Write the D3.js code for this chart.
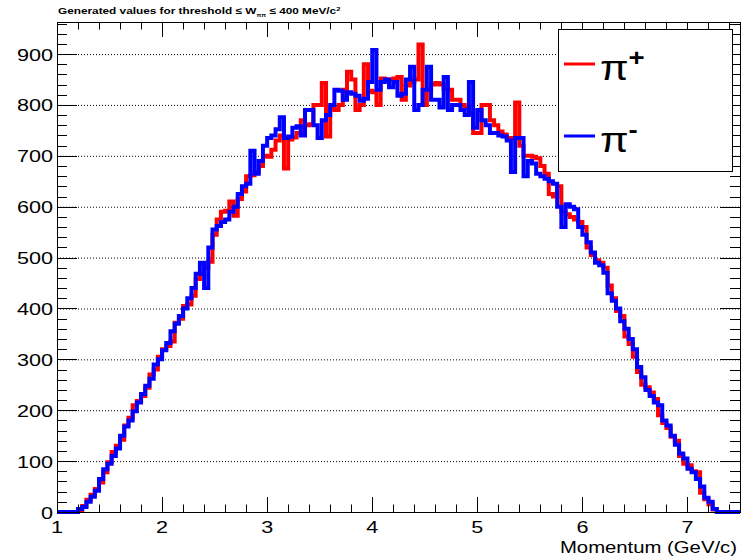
<!DOCTYPE html>
<html>
<head>
<meta charset="utf-8">
<script src="https://cdn.jsdelivr.net/npm/d3@7"></script>
<style>
  body { margin: 0; background: #fff; }
  svg { display: block; }
  text { font-family: "Liberation Sans", Arial, Helvetica, sans-serif; }
</style>
</head>
<body>
<svg width="748" height="558"></svg>
<script>
// histogram binning (momentum, GeV/c)
const binStart = 1.0;
const binWidth = 0.04;

// counts per bin, pi+
const piPlus = [
  0, 0, 0, 0, 0,   4, 12, 24, 34, 45,   58, 78, 98, 118, 130,   142, 170, 185, 210, 218,
  228, 244, 270, 280, 305,   320, 326, 335, 372, 380,   405, 408, 425, 458, 468,   480, 492, 545, 575, 590,
  592, 610, 582, 615, 630,   660, 662, 668, 680, 700,   698, 712, 730, 740, 675,   732, 736, 745, 770, 760,
  762, 800, 800, 843, 738,   795, 790, 800, 830, 865,   850, 790, 800, 880, 828,   825, 800, 852, 848, 850,
  852, 855, 810, 838, 845,   850, 919, 800, 830, 840,   843, 840, 832, 830, 810,   810, 800, 795, 785, 745,
  745, 800, 800, 770, 760,   748, 742, 735, 735, 805,   720, 700, 700, 698, 695,   680, 665, 625, 620, 640,
  590, 585, 580, 575, 570,   560, 520, 505, 495, 490,   480, 445, 420, 395, 385,   345, 330, 305, 275, 250,
  245, 235, 222, 190, 175,   165, 148, 140, 110, 95,   92, 80, 78, 38, 25,   15, 5, 0, 0, 0,
  0, 0, 0
];

// counts per bin, pi-
const piMinus = [
  0, 0, 0, 0, 0,   6, 10, 20, 30, 42,   65, 84, 95, 110, 125,   150, 168, 180, 198, 215,
  232, 248, 262, 290, 300,   318, 332, 355, 370, 385,   400, 420, 440, 468, 490,   440, 520, 555, 562, 570,
  575, 590, 600, 625, 640,   645, 710, 665, 690, 720,   735, 740, 752, 776, 735,   738, 755, 758, 740, 790,
  790, 760, 735, 770, 780,   800, 830, 828, 810, 825,   822, 818, 808, 812, 845,   908, 830, 845, 850, 835,
  845, 818, 822, 850, 875,   790, 800, 830, 875, 810,   810, 795, 855, 790, 800,   800, 790, 780, 845, 755,
  790, 770, 760, 745, 745,   740, 738, 730, 668, 735,   735, 660, 690, 685, 665,   660, 655, 650, 645, 600,
  560, 605, 600, 595, 560,   545, 530, 510, 490, 485,   470, 430, 415, 400, 375,   360, 340, 320, 285, 265,
  240, 228, 215, 210, 180,   170, 150, 132, 115, 105,   85, 78, 65, 50, 28,   20, 6, 0, 0, 0,
  0, 0, 0
];

const seriesNames = ["+", "-"];
const seriesColors = ["#ff0000", "#0000ff"];

const xTicks = [1, 2, 3, 4, 5, 6, 7];
const yTicks = [0, 100, 200, 300, 400, 500, 600, 700, 800, 900];

const titleText = "Generated values for threshold ≤ W";
const xTitle = "Momentum (GeV/c)";

const svg = d3.select("svg");
const margin = { left: 57, right: 8, top: 22, bottom: 46 };
const width = +svg.attr("width");
const height = +svg.attr("height");
const x0 = margin.left, x1 = width - margin.right;
const y0 = height - margin.bottom, y1 = margin.top;
const sx = 1.27; // text in the original is stretched sideways

const x = d3.scaleLinear().domain([1, 7.5]).range([x0, x1]);
const y = d3.scaleLinear().domain([0, 963]).range([y0, y1]);

// stretched text helper
function label(px, py, str, size, anchor, weight) {
  return svg.append("text")
    .attr("transform", `translate(${px},${py}) scale(${sx},1)`)
    .attr("font-size", size)
    .attr("text-anchor", anchor || "start")
    .attr("font-weight", weight || "normal")
    .text(str);
}

// horizontal dotted grid
svg.append("g").selectAll("line")
  .data(yTicks.filter(d => d > 0))
  .join("line")
  .attr("x1", x0).attr("x2", x1)
  .attr("y1", d => y(d) + 0.5).attr("y2", d => y(d) + 0.5)
  .attr("stroke", "#000")
  .attr("stroke-width", 1)
  .attr("stroke-dasharray", "1,2");

// histograms as steps
svg.append("clipPath").attr("id", "plot")
  .append("rect").attr("x", x0).attr("y", 0).attr("width", x1 - x0).attr("height", y0 + 10);

function steps(values) {
  const pts = values.map((v, i) => [binStart + i * binWidth, v]);
  pts.push([binStart + values.length * binWidth, values[values.length - 1]]);
  return pts;
}
const line = d3.line()
  .x(d => x(d[0]))
  .y(d => y(d[1]))
  .curve(d3.curveStepAfter);

[piPlus, piMinus].forEach((vals, k) => {
  svg.append("path")
    .attr("clip-path", "url(#plot)")
    .attr("d", line(steps(vals)))
    .attr("fill", "none")
    .attr("stroke", seriesColors[k])
    .attr("stroke-width", 4)
    .attr("stroke-linejoin", "miter");
});

// frame
svg.append("rect")
  .attr("x", x0 + 0.5).attr("y", y1 + 0.5)
  .attr("width", x1 - x0).attr("height", y0 - y1)
  .attr("fill", "none").attr("stroke", "#000");

// ticks
const xMinor = d3.range(1, 7.5001, 0.2);
const yMinor = d3.range(0, 963, 20);
const ticks = svg.append("g").attr("stroke", "#000").attr("stroke-width", 1);
xMinor.forEach(v => {
  const major = Math.abs(v - Math.round(v)) < 1e-6;
  const len = major ? 15 : 7.5;
  const px = Math.round(x(v)) + 0.5;
  ticks.append("line").attr("x1", px).attr("x2", px).attr("y1", y0).attr("y2", y0 - len);
  ticks.append("line").attr("x1", px).attr("x2", px).attr("y1", y1).attr("y2", y1 + len);
});
yMinor.forEach(v => {
  const major = v % 100 === 0;
  const len = major ? 20 : 10;
  const py = Math.round(y(v)) + 0.5;
  ticks.append("line").attr("x1", x0).attr("x2", x0 + len).attr("y1", py).attr("y2", py);
  ticks.append("line").attr("x1", x1).attr("x2", x1 - len).attr("y1", py).attr("y2", py);
});

// tick labels
yTicks.forEach(v => label(x0 - 4, y(v) + 6.5, v, 17, "end"));
xTicks.forEach(v => label(x(v), y0 + 21, v, 17, "middle"));

// axis title
label(x1 - 3, height - 5, xTitle, 16, "end");

// title with subscript and superscript
const t = svg.append("text")
  .attr("transform", `translate(${x0 + 1},14) scale(${sx},1)`)
  .attr("font-size", 9.3)
  .attr("font-weight", "bold");
t.append("tspan").text(titleText);
t.append("tspan").attr("font-size", 5).attr("dy", 2.5).text("ππ");
t.append("tspan").attr("dy", -2.5).text(" ≤ 400 MeV/c");
t.append("tspan").attr("font-size", 6).attr("dy", -3.5).text("2");

// legend
const lg = svg.append("g");
lg.append("rect")
  .attr("x", 558.5).attr("y", 29.5).attr("width", 174).attr("height", 142)
  .attr("fill", "#fff").attr("stroke", "#000");
const legY = [64, 136];
seriesNames.forEach((s, k) => {
  lg.append("line")
    .attr("x1", 564).attr("x2", 595)
    .attr("y1", legY[k]).attr("y2", legY[k])
    .attr("stroke", seriesColors[k]).attr("stroke-width", 3);
  const tx = lg.append("text")
    .attr("transform", `translate(600,${legY[k] + 16}) scale(1.15,1)`)
    .attr("font-family", "'Liberation Serif', 'DejaVu Serif', serif")
    .attr("font-size", 36)
    .text("π");
  tx.append("tspan")
    .attr("font-family", "'Liberation Sans', Arial, sans-serif")
    .attr("font-weight", "bold")
    .attr("font-size", 24)
    .attr("dy", -14)
    .text(s);
});
</script>
</body>
</html>
